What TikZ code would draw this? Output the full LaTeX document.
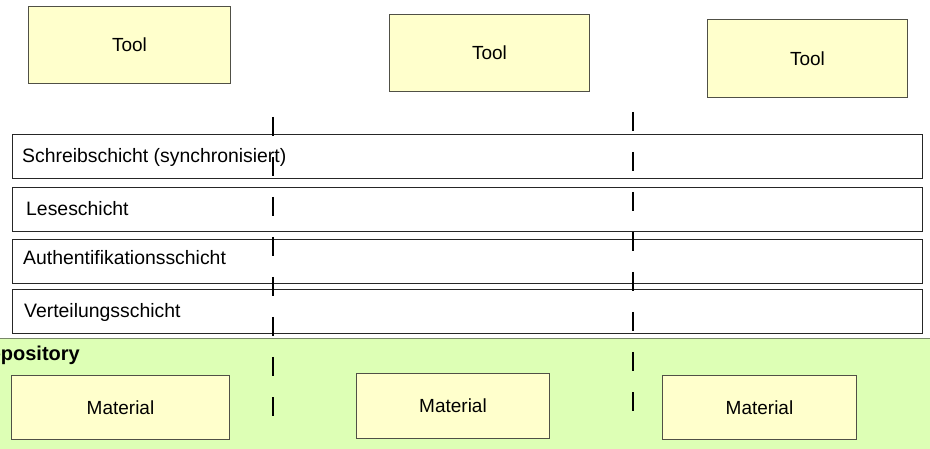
\documentclass[tikz,border=0pt]{standalone}
\usepackage{fontspec}
\setmainfont{Liberation Sans}
\definecolor{boxyellow}{RGB}{255,255,204}
\definecolor{repogreen}{RGB}{221,255,181}
\definecolor{repoline}{RGB}{120,135,105}
\definecolor{boxline}{RGB}{80,80,70}
\tikzset{
  yellowbox/.style={draw=boxline, line width=1pt, fill=boxyellow, anchor=north west, inner sep=0pt,
    font=\fontsize{19}{23}\selectfont},
  layerbox/.style={draw=black!85, line width=1.1pt, fill=white, anchor=north west, inner sep=0pt},
  layertext/.style={anchor=base west, inner sep=0pt, font=\fontsize{19.4}{23}\selectfont},
  dashline/.style={line width=2pt, dash pattern=on 19pt off 21pt},
}
\begin{document}
\begin{tikzpicture}[x=1pt,y=-1pt]
\useasboundingbox (0,0) rectangle (930,449);
\begin{scope}
\clip (0,0) rectangle (930,449);
% repository band
\fill[repogreen] (0,339) rectangle (931,450);
\draw[repoline, line width=1pt] (0,339) -- (931,339);
\node[anchor=base east, inner sep=0pt, font=\fontsize{20}{24}\selectfont\bfseries] (repo) at (80,361) {Repository};
\end{scope}
% tools
\node[yellowbox, minimum width=202pt, minimum height=77pt] (tool1) at (28,6) {Tool};
\node[yellowbox, minimum width=200pt, minimum height=77pt] (tool2) at (389,14) {Tool};
\node[yellowbox, minimum width=200pt, minimum height=78pt] (tool3) at (707,19) {Tool};
% layers
\node[layerbox, minimum width=910pt, minimum height=44pt] (l1) at (12,134) {};
\node[layerbox, minimum width=910pt, minimum height=44pt] (l2) at (12,187) {};
\node[layerbox, minimum width=910pt, minimum height=44pt] (l3) at (12,239) {};
\node[layerbox, minimum width=910pt, minimum height=44pt] (l4) at (12,289) {};
\node[layertext] (t1) at (22,163) {Schreibschicht (synchronisiert)};
\node[layertext] (t2) at (26,216) {Leseschicht};
\node[layertext] (t3) at (23,265) {Authentifikationsschicht};
\node[layertext] (t4) at (24,318) {Verteilungsschicht};
% materials
\node[yellowbox, minimum width=218pt, minimum height=64pt] (mat1) at (11,375) {Material};
\node[yellowbox, minimum width=193pt, minimum height=65pt] (mat2) at (356,373) {Material};
\node[yellowbox, minimum width=194pt, minimum height=64pt] (mat3) at (662,375) {Material};
% dashed separators
\coordinate (d1a) at (273,117);
\coordinate (d1b) at (273,416);
\coordinate (d2a) at (633,112);
\coordinate (d2b) at (633,412);
\draw[dashline] (d1a) -- (d1b);
\draw[dashline] (d2a) -- (d2b);
\end{tikzpicture}
\end{document}
